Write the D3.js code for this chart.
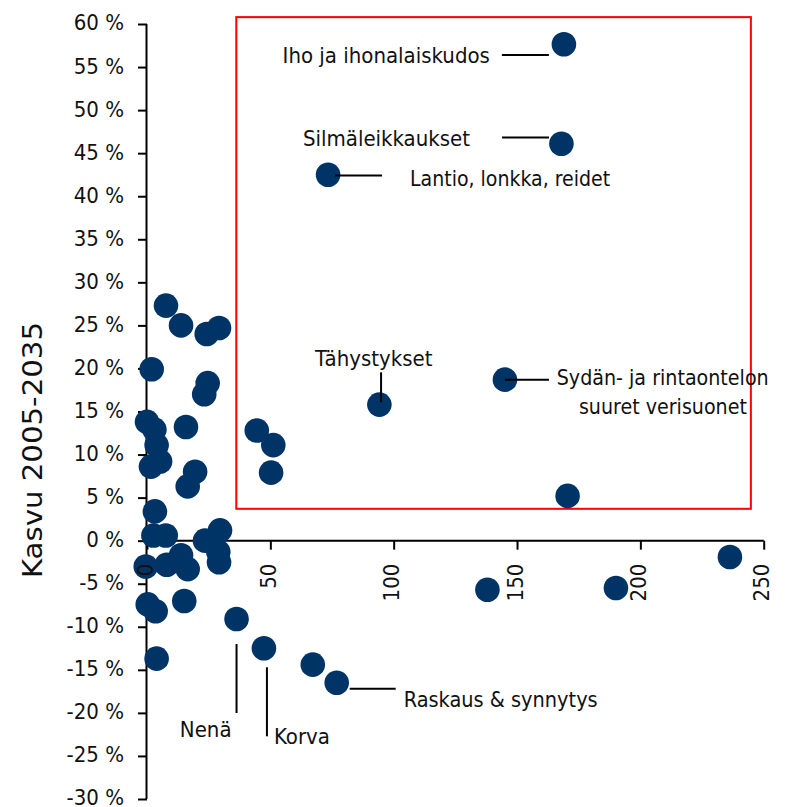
<!DOCTYPE html>
<html><head><meta charset="utf-8">
<script src="https://cdn.jsdelivr.net/npm/d3@7/dist/d3.min.js"></script>
<style>
html,body{margin:0;padding:0;background:#fff;}
text{font-family:"Liberation Sans Narrow","Arial Narrow","DejaVu Sans Condensed",sans-serif;fill:#111;}
</style></head>
<body><svg id="c" width="786" height="807"></svg>
<script>
// Data: x = volume (cases), y = growth 2005-2035 (%)
const xValues = [169.0,168.0,73.4,94.2,145.1,170.5,236.3,190.1,138.0,44.5,51.2,50.3,36.3,47.4,67.2,76.9,
  7.7,13.8,24.2,29.2,1.9,24.6,23.2,0.0,3.0,15.8,3.9,5.3,1.6,19.5,16.5,3.2,2.6,7.6,23.5,29.6,-0.5,8.0,13.8,16.5,28.9,29.2,0.3,3.5,15.1,3.9];
const yValues = [57.65,46.1,42.5,15.8,18.7,5.2,-1.9,-5.5,-5.7,12.8,11.1,7.9,-9.1,-12.5,-14.4,-16.5,
  27.3,25.0,24.0,24.7,19.9,18.3,17.0,13.8,12.9,13.2,11.1,9.2,8.6,8.0,6.3,3.4,0.6,0.6,0.0,1.2,-3.0,-2.8,-1.7,-3.3,-1.3,-2.5,-7.4,-8.2,-7.0,-13.7];
const xTicks = [0,50,100,150,200,250];
const yTicks = [60,55,50,45,40,35,30,25,20,15,10,5,0,-5,-10,-15,-20,-25,-30];
const yTitle = "Kasvu 2005-2035";
const labelTexts = ["Iho ja ihonalaiskudos","Silmäleikkaukset","Lantio, lonkka, reidet","Tähystykset",
  "Sydän- ja rintaontelon|suuret verisuonet","Nenä","Korva","Raskaus & synnytys"];
const labelPoints = [0,1,2,3,4,12,13,15];
const highlightBox = {x0:36.2, x1:244.8, y0:60.8, y1:3.7};

const svg = d3.select("#c");
const x = d3.scaleLinear().domain([0,250]).range([147,763.7]);
const y = d3.scaleLinear().domain([-30,60]).range([799,24]);
const FS = 22;

// highlight box
svg.append("rect")
  .attr("x", x(highlightBox.x0)).attr("y", y(highlightBox.y0))
  .attr("width", x(highlightBox.x1)-x(highlightBox.x0))
  .attr("height", y(highlightBox.y1)-y(highlightBox.y0))
  .attr("fill","none").attr("stroke","#ff0000").attr("stroke-width",2);

// y axis
const ya = svg.append("g").attr("transform",`translate(${x(0)},0)`)
  .call(d3.axisLeft(y).tickValues(yTicks).tickSize(9).tickPadding(14).tickFormat(d=>d+" %"));
ya.select(".domain").attr("stroke","#000").attr("stroke-width",2).attr("d",`M-0.5,${y(60)}V${y(-30)}`);
ya.selectAll(".tick line").attr("stroke","#000").attr("stroke-width",2);
ya.selectAll(".tick text").style("font-size",FS+"px").attr("dy","0.27em").attr("fill","#111");

// x axis (lines)
const xa = svg.append("g").attr("transform",`translate(0,${y(0)})`)
  .call(d3.axisBottom(x).tickValues(xTicks).tickSize(9).tickFormat(""));
xa.select(".domain").attr("stroke","#000").attr("stroke-width",2).attr("d",`M${x(0)},0H${x(250)}`);
xa.selectAll(".tick line").attr("stroke","#000").attr("stroke-width",2);

// y title
svg.append("text").attr("transform",`translate(42,450) rotate(-90)`)
  .attr("text-anchor","middle").style("font-size","26px")
  .attr("textLength",256).attr("lengthAdjust","spacingAndGlyphs").text(yTitle);

// points
const pts = xValues.map((v,i)=>({x:v,y:yValues[i]}));
svg.append("g").selectAll("circle").data(pts).join("circle")
  .attr("cx",d=>x(d.x)).attr("cy",d=>y(d.y)).attr("r",12.3).attr("fill","#003466");

// x axis labels (drawn above the points)
const xl = svg.append("g").attr("transform",`translate(0,${y(0)})`)
  .call(d3.axisBottom(x).tickValues(xTicks).tickSize(9).tickFormat(d3.format("d")));
xl.select(".domain").remove();
xl.selectAll(".tick line").remove();
xl.selectAll(".tick text").style("font-size",FS+"px")
  .attr("transform","translate(0,23) rotate(-90)").attr("y",0).attr("dy","5px")
  .attr("text-anchor","end").attr("fill","#111");

// annotations: leader line offsets (px) relative to point and label anchor
const ann = [
  {line:[-62,10.7,-15,10.7], tx:-74, ty:18.7, anchor:"end"},
  {line:[-59.4,-6.3,-12.4,-6.3], tx:-91.4, ty:2.7, anchor:"end"},
  {line:[7,0.7,54,0.7], tx:82, ty:11, anchor:"start", len:200},
  {line:[1.7,-32.3,1.7,-2.3], tx:-5.6, ty:-38.3, anchor:"middle"},
  {line:[0,0,44,0], tx:51.8, ty:5, anchor:"start", len:212, tx2:158, ty2:34, len2:168},
  {line:[0,25,0,94], tx:-5, ty:118, anchor:"end"},
  {line:[3,19,3,88], tx:10, ty:96, anchor:"start"},
  {line:[13,6,59,6], tx:67, ty:24, anchor:"start", len:194}
];
const ag = svg.append("g");
labelPoints.forEach((pi,k)=>{
  const px = x(xValues[pi]), py = y(yValues[pi]); const a = ann[k];
  ag.append("line").attr("x1",px+a.line[0]).attr("y1",py+a.line[1]).attr("x2",px+a.line[2]).attr("y2",py+a.line[3])
    .attr("stroke","#000").attr("stroke-width",2);
  const parts = labelTexts[k].split("|");
  const t1 = ag.append("text").attr("x",px+a.tx).attr("y",py+a.ty).attr("text-anchor",a.anchor).style("font-size",FS+"px").text(parts[0]);
  if(a.len) t1.attr("textLength",a.len).attr("lengthAdjust","spacingAndGlyphs");
  if(parts[1]) {
    const t2 = ag.append("text").attr("x",px+a.tx2).attr("y",py+a.ty2).attr("text-anchor","middle").style("font-size",FS+"px").text(parts[1]);
    if(a.len2) t2.attr("textLength",a.len2).attr("lengthAdjust","spacingAndGlyphs");
  }
});
</script></body></html>
